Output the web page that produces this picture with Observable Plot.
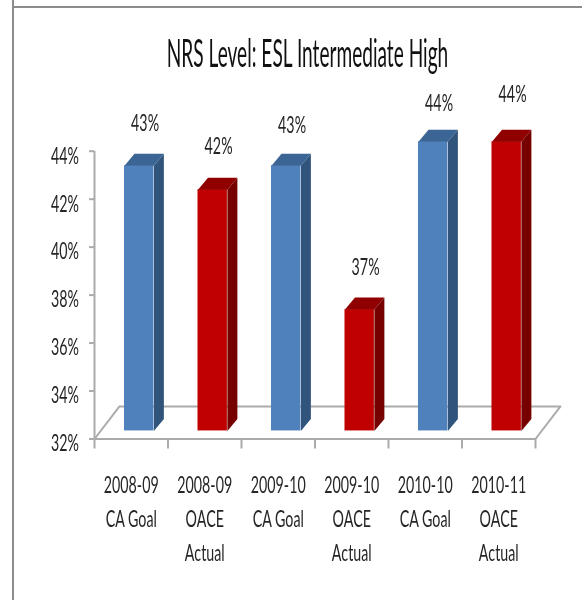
<!DOCTYPE html>
<html>
<head>
<meta charset="utf-8">
<script src="https://cdn.jsdelivr.net/npm/d3@7"></script>
<script src="https://cdn.jsdelivr.net/npm/@observablehq/plot@0.6"></script>
<style>
  html, body { margin: 0; padding: 0; background: #fff; }
  #page { position: relative; width: 582px; height: 600px; overflow: hidden; }
  #page svg { position: absolute; left: 0; top: 0; filter: blur(0.4px); }
  .edge { position: absolute; background: #8c8c8c; }
</style>
</head>
<body>
<div id="page">
  <div class="edge" style="left:12px;top:0;width:2px;height:600px"></div>
  <div class="edge" style="left:12px;top:6px;width:570px;height:2px"></div>
</div>
<script>
const chartTitle = "NRS Level: ESL Intermediate High";
const years = ["2008-09", "2008-09", "2009-10", "2009-10", "2010-10", "2010-11"];
const roles = ["CA Goal", "OACE\nActual", "CA Goal", "OACE\nActual", "CA Goal", "OACE\nActual"];
const values = [43, 42, 43, 37, 44, 44];
const yTicks = [32, 34, 36, 38, 40, 42, 44];

// 3-D look, in scale units
const barStart = 0.408, barWidth = 0.4, depthX = 0.136, depthY = 0.5, barBase = 31.94;
const floorX = 0.34, floorY = 1.36;
const labelLift = [2.17, 2.2, 2.05, 2.15, 2.0, 2.35];
const faces = { goal: ["#4f81bd", "#3b6595", "#31547c"], actual: ["#c00000", "#900000", "#760000"] };

const bars = values.map((value, i) => ({
  value, i, label: value + "%",
  x1: i + barStart, x2: i + barStart + barWidth,
  colors: i % 2 ? faces.actual : faces.goal
}));
const facePoints = bars.flatMap(b => [
  ...[[b.x1, b.value], [b.x2, b.value], [b.x2 + depthX, b.value + depthY], [b.x1 + depthX, b.value + depthY]]
    .map(([x, y]) => ({ x, y, z: b.i + "top", fill: b.colors[1] })),
  ...[[b.x2, b.value], [b.x2 + depthX, b.value + depthY], [b.x2 + depthX, barBase + depthY], [b.x2, barBase]]
    .map(([x, y]) => ({ x, y, z: b.i + "side", fill: b.colors[2] }))
]);
const floorPoints = [[0, 32], [floorX, 32 + floorY], [6 + floorX, 32 + floorY], [6, 32]].map(([x, y]) => ({ x, y }));
const axisGray = "#ababab", ink = "#262626";

const chart = Plot.plot({
  width: 582, height: 600,
  marginLeft: 94, marginRight: 47, marginTop: 150.7, marginBottom: 161.5,
  x: { domain: [0, 6], axis: null },
  y: { domain: [32, 44], axis: null },
  color: { type: "identity" },
  style: { background: "transparent", fontFamily: "Lato", color: ink, overflow: "visible" },
  marks: [
    Plot.line(floorPoints, { x: "x", y: "y", stroke: axisGray, strokeWidth: 2 }),
    Plot.ruleX([0], { y1: 32, y2: 44, stroke: axisGray, strokeWidth: 2 }),
    Plot.ruleY([32], { x1: 0, x2: 6, stroke: axisGray, strokeWidth: 2 }),
    Plot.ruleY(yTicks, { x1: 0, x2: -5 / 73.5, stroke: axisGray, strokeWidth: 2 }),
    Plot.ruleX(d3.range(7), { y1: 32, y2: 32 - 10 / 24, stroke: axisGray, strokeWidth: 2 }),
    Plot.axisY({ ticks: yTicks, tickSize: 0, tickPadding: 15.5, tickFormat: d => d + "%", fontSize: 23, fill: ink, dy: 5 }),
    Plot.rect(bars, { x1: "x1", x2: "x2", y1: barBase, y2: "value", fill: d => d.colors[0], dy: -9.5 }),
    Plot.line(facePoints, { x: "x", y: "y", z: "z", fill: "fill", stroke: null, dy: -9.5 }),
    Plot.text(bars, { x: d => d.x1 + 0.28, y: d => d.value + labelLift[d.i], text: "label", fontSize: 23, fill: ink }),
    Plot.text(years.map((y, i) => ({ i, t: y + "\n" + roles[i] })), {
      x: d => d.i + 0.5, y: 32, text: "t", fontSize: 23, fill: ink, lineAnchor: "top", lineHeight: 1.48, dy: 30
    }),
    Plot.text([chartTitle], { frameAnchor: "top", dx: -7.5, dy: -112, fontSize: 39, fill: "#111", lineAnchor: "top", className: "chart-title" })
  ]
});
d3.select(chart).selectAll("text").attr("transform", function () {
  const isTitle = this.closest(".chart-title");
  return this.getAttribute("transform") + (isTitle ? " scale(0.49,1)" : " scale(0.62,1)");
});
document.getElementById("page").appendChild(chart);
</script>
</body>
</html>
